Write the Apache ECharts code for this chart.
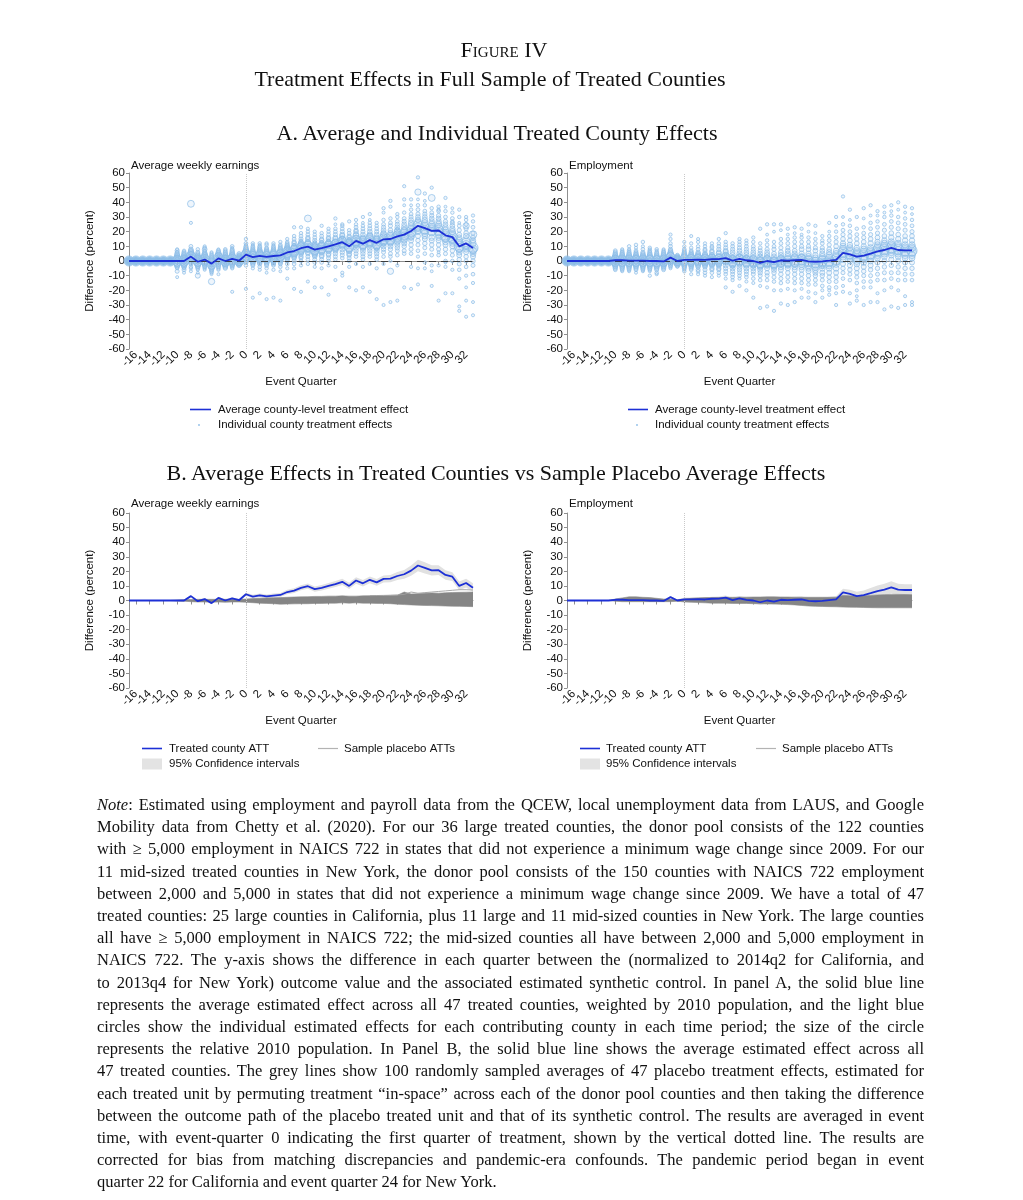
<!DOCTYPE html>
<html><head><meta charset="utf-8">
<script src="https://cdn.jsdelivr.net/npm/echarts@6/dist/echarts.min.js"></script>
<style>
html,body{margin:0;padding:0;background:#fff;}
#wrap{position:relative;width:1023px;height:1200px;}
#chart{position:absolute;left:0;top:0;width:1023px;height:1200px;}
.ttl{position:absolute;font-family:'Liberation Serif','Times New Roman',serif;color:#111;text-align:center;white-space:nowrap;width:800px;line-height:26px;font-size:22px;}
#note{position:absolute;left:97px;top:794px;width:827px;font-family:'Liberation Serif','Times New Roman',serif;font-size:16.5px;line-height:22.2px;color:#111;}
#note div{text-align:justify;text-align-last:justify;word-spacing:-1.5px;}
#note div.last{text-align-last:left;word-spacing:0;}
</style></head><body>
<div id="wrap">
<div id="chart"></div>
<div class="ttl" style="left:104px;top:37px;font-variant:small-caps;">Figure IV</div>
<div class="ttl" style="left:90px;top:66px;">Treatment Effects in Full Sample of Treated Counties</div>
<div class="ttl" style="left:97px;top:120px;">A. Average and Individual Treated County Effects</div>
<div class="ttl" style="left:96px;top:460px;">B. Average Effects in Treated Counties vs Sample Placebo Average Effects</div>
<div id="note">
<div><i>Note</i>: Estimated using employment and payroll data from the QCEW, local unemployment data from LAUS, and Google</div>
<div>Mobility data from Chetty et al. (2020). For our 36 large treated counties, the donor pool consists of the 122 counties</div>
<div>with ≥ 5,000 employment in NAICS 722 in states that did not experience a minimum wage change since 2009. For our</div>
<div>11 mid-sized treated counties in New York, the donor pool consists of the 150 counties with NAICS 722 employment</div>
<div>between 2,000 and 5,000 in states that did not experience a minimum wage change since 2009. We have a total of 47</div>
<div>treated counties: 25 large counties in California, plus 11 large and 11 mid-sized counties in New York. The large counties</div>
<div>all have ≥ 5,000 employment in NAICS 722; the mid-sized counties all have between 2,000 and 5,000 employment in</div>
<div>NAICS 722. The y-axis shows the difference in each quarter between the (normalized to 2014q2 for California, and</div>
<div>to 2013q4 for New York) outcome value and the associated estimated synthetic control. In panel A, the solid blue line</div>
<div>represents the average estimated effect across all 47 treated counties, weighted by 2010 population, and the light blue</div>
<div>circles show the individual estimated effects for each contributing county in each time period; the size of the circle</div>
<div>represents the relative 2010 population. In Panel B, the solid blue line shows the average estimated effect across all</div>
<div>47 treated counties. The grey lines show 100 randomly sampled averages of 47 placebo treatment effects, estimated for</div>
<div>each treated unit by permuting treatment “in-space” across each of the donor pool counties and then taking the difference</div>
<div>between the outcome path of the placebo treated unit and that of its synthetic control. The results are averaged in event</div>
<div>time, with event-quarter 0 indicating the first quarter of treatment, shown by the vertical dotted line. The results are</div>
<div>corrected for bias from matching discrepancies and pandemic-era confounds. The pandemic period began in event</div>
<div class="last">quarter 22 for California and event quarter 24 for New York.</div>
</div>
</div>
<script>
// ---------- DATA ----------
const quarters = [-17,-16,-15,-14,-13,-12,-11,-10,-9,-8,-7,-6,-5,-4,-3,-2,-1,0,1,2,3,4,5,6,7,8,9,10,11,12,13,14,15,16,17,18,19,20,21,22,23,24,25,26,27,28,29,30,31,32,33];
const tickQuarters = [-16,-14,-12,-10,-8,-6,-4,-2,0,2,4,6,8,10,12,14,16,18,20,22,24,26,28,30,32];

// average (population-weighted) treatment effect, percent
const earnAtt = [0,0,0,0,0,0,0, 0,0,3,-0.5,1,-1.8,1.8,0,1.5,0.2, 4.3,2.7,3.5,2.8,3.4,3.8,5.8,6.8,8.7,9.8, 7.8,8.7,10,11.3,12.8,10,13.7,11.8,14.2,12.4, 14.8,15,16.8,18,20.5,24,22.4,20.6,20.8,17.5, 16.3,10,12,8.8];
const emplAtt = [0,0,0,0,0,0,0, 0.5,0.5,0.3,0.2,0.2,0,0,-0.3,2.3,0, 0.8,0.8,1,0.7,1.2,1.3,2,0.3,1.5,0.5, 0,-1.2,0,-0.8,0.5,0.3,0.5,0.7,-0.3,-0.5, -0.3,0.3,0.8,5.5,4.5,3,3.7,5,6.5,7.5, 9,7.5,7.2,7.2];

// relative 2010 population of the plotted counties (order matches the columns of each row below)
const countyPop = [12,8,6,4.5,3.5,2.8,2.2,1.8,1.5,1.2,1.0,0.85,0.7,0.6,0.5,0.4,0.35,0.3,0.25,0.2];

// individual county effects, one row per event quarter (-17 .. 33)
const earnCounty = [
[0,0,0,0,0,0,0,0,0,0,0,0,0,0,0,0,0,0,0,0],
[0,0,0,0,0,0,0,0,0,0,0,0,0,0,0,0,0,0,0,0],
[0,0,0,0,0,0,0,0,0,0,0,0,0,0,0,0,0,0,0,0],
[0,0,0,0,0,0,0,0,0,0,0,0,0,0,0,0,0,0,0,0],
[0,0,0,0,0,0,0,0,0,0,0,0,0,0,0,0,0,0,0,0],
[0,0,0,0,0,0,0,0,0,0,0,0,0,0,0,0,0,0,0,0],
[0,0,0,0,0,0,0,0,0,0,0,0,0,0,0,0,0,0,0,0],
[0,1,-1,2,-2,3,-3,4,5,-4,7,-7,1,6,-1,2,-5,8,-11,3],
[0,1,-1,2,-2,3,-3,4,-4,5,6,-6,1,2,-1,7,-5,3,-8,0],
[3,2,4,39,5,6,0,7,-1,8,-2,3,10,-4,5,-5,1,26,-7,2],
[0,1,-1,2,-2,3,-3,-10,4,-4,5,6,-5,1,8,-1,2,-6,3,-8],
[1,0,2,3,-1,4,-2,5,8,-3,6,-4,7,2,9,-5,1,10,-6,3],
[-2,-1,-3,0,-14,-4,1,-5,2,-6,3,-7,4,5,-2,-8,0,-3,6,-9],
[2,1,3,0,4,-1,5,-2,6,-3,7,-4,2,-5,3,1,-6,4,-9,8],
[0,1,-1,2,-2,3,-3,4,-4,5,6,-5,7,1,8,-1,2,0,3,-2],
[1,2,0,3,-1,4,-2,5,6,-3,7,-4,8,10,2,-5,3,-21,1,9],
[0,0,1,-1,2,-2,3,1,4,-3,5,0,2,-1,3,1,-2,4,0,2],
[4,5,3,6,2,7,1,8,0,9,-1,10,12,-3,15,5,-19,11,3,6],
[3,2,4,1,5,0,6,-1,7,-2,8,9,-3,10,12,2,-5,-25,4,11],
[3,4,2,5,1,6,0,7,-1,8,-2,9,10,-4,12,3,-6,-22,5,11],
[3,2,4,1,5,0,6,-1,7,-2,8,-3,9,11,-5,12,3,-26,4,-8],
[3,4,2,5,1,6,0,7,-1,8,-2,9,10,-3,12,-6,4,-25,2,11],
[4,3,5,2,6,1,7,0,8,-1,9,-2,10,11,-4,13,3,-27,5,-7],
[6,5,7,4,8,3,9,2,10,1,11,0,12,-2,13,15,-5,-12,6,8],
[7,6,8,5,9,4,10,3,12,2,13,0,15,-2,17,23,-5,-19,7,11],
[9,8,10,7,11,6,12,5,13,3,15,2,17,0,19,23,-3,-21,9,14],
[10,9,11,29,12,8,13,6,15,5,16,3,18,1,20,-2,22,-14,10,7],
[8,7,9,6,10,5,11,4,12,3,14,1,16,-1,18,20,-4,-18,8,13],
[9,8,10,7,11,6,12,4,14,3,15,1,17,-1,19,24,-5,-18,9,13],
[10,9,11,8,12,7,13,5,15,4,16,2,18,0,20,22,-3,-23,10,14],
[11,10,12,9,13,8,15,7,16,5,18,3,20,1,22,29,-4,-13,11,25],
[13,12,14,11,15,10,17,8,18,6,20,4,22,2,24,25,-8,-10,13,16],
[10,9,12,8,13,7,14,5,16,4,17,2,19,0,21,27,-4,-18,11,15],
[14,13,15,12,17,11,18,9,20,7,21,5,23,3,25,28,-2,-20,14,10],
[12,11,14,10,15,9,16,7,18,5,20,3,22,1,24,30,-4,-18,12,26],
[14,13,16,12,17,11,18,9,20,7,22,5,24,3,26,32,-2,-21,14,28],
[12,11,14,10,15,9,16,7,18,5,20,3,22,1,24,26,-5,-26,13,8],
[15,14,16,13,18,12,19,10,21,8,23,6,25,3,28,36,-2,-30,33,11],
[15,14,17,13,-7,12,19,10,21,8,24,5,26,3,29,41,37,-28,15,0],
[17,16,18,14,20,13,21,11,23,9,25,7,27,4,30,32,-3,-27,17,22],
[18,17,20,15,21,14,23,12,25,10,27,7,29,5,33,42,51,-18,18,38],
[20,19,22,17,24,16,26,14,28,11,30,8,32,5,35,42,-4,-19,21,38],
[24,23,26,21,47,20,28,17,30,14,32,11,35,7,38,57,3,-16,-5,42],
[22,21,24,19,26,17,28,15,30,12,32,9,34,5,38,46,-1,-5,22,41],
[21,20,23,43,25,16,27,14,29,11,31,8,33,4,36,50,-3,-17,21,-7],
[21,20,23,18,25,16,27,14,29,11,31,8,34,4,37,35,-3,-27,21,6],
[17,16,19,15,21,13,23,11,25,8,27,5,30,0,34,43,-4,-22,-1,37],
[16,15,18,14,20,12,22,10,24,7,26,4,29,0,33,27,-6,-22,16,36],
[10,9,12,8,14,6,16,4,18,1,21,-2,24,-6,30,35,-12,-34,-31,26],
[12,11,14,10,24,8,17,6,19,3,22,0,25,-4,28,30,-10,-38,-27,-18],
[9,8,18,7,12,5,14,3,16,0,19,-3,23,-9,27,31,-15,-37,-28,9]
];
const emplCounty = [
[0,0,0,0,0,0,0,0,0,0,0,0,0,0,0,0,0,0,0,0],
[0,0,0,0,0,0,0,0,0,0,0,0,0,0,0,0,0,0,0,0],
[0,0,0,0,0,0,0,0,0,0,0,0,0,0,0,0,0,0,0,0],
[0,0,0,0,0,0,0,0,0,0,0,0,0,0,0,0,0,0,0,0],
[0,0,0,0,0,0,0,0,0,0,0,0,0,0,0,0,0,0,0,0],
[0,0,0,0,0,0,0,0,0,0,0,0,0,0,0,0,0,0,0,0],
[0,0,0,0,0,0,0,0,0,0,0,0,0,0,0,0,0,0,0,0],
[0,1,-1,2,-2,3,-3,4,-4,5,-5,6,7,-6,1,2,-1,3,0,-2],
[0,1,-1,2,-2,3,-3,4,-4,5,-5,6,-6,7,1,-1,2,8,-7,0],
[0,1,-1,2,-2,3,-3,4,-4,5,-5,6,-6,7,10,-1,1,8,-7,2],
[0,1,-1,2,-2,3,-3,4,-4,5,-5,6,-6,7,11,-1,1,9,-8,3],
[0,1,-1,2,-2,3,-3,4,-4,5,-5,6,-6,8,13,-1,1,10,-7,2],
[0,1,-1,2,-2,3,-3,4,-4,5,-5,6,7,-6,9,-10,1,8,-7,-1],
[0,-1,1,-2,2,-3,3,-4,4,-5,5,-6,6,-8,8,-1,1,-9,7,0],
[0,1,-1,2,-2,3,-3,4,-4,5,-5,6,-6,7,1,-1,2,0,8,-2],
[2,3,1,4,0,5,-1,6,-2,7,-3,8,10,-4,12,15,18,2,-5,3],
[0,0,1,-1,2,-2,1,3,-3,0,2,-1,4,1,-2,0,3,-4,1,2],
[1,0,2,-1,3,-2,4,-3,5,-4,6,-5,7,8,-7,10,13,1,-6,2],
[1,0,2,-1,3,-2,4,-3,5,-4,6,-5,7,-6,9,12,-9,17,1,2],
[1,0,2,-1,3,-2,4,-3,5,-4,6,-6,8,-7,10,13,-9,15,1,2],
[1,0,2,-1,3,-2,4,-3,5,-4,7,-6,8,-8,10,12,-10,2,1,-1],
[1,0,2,-1,3,-2,4,-3,6,-5,7,-6,9,-8,10,12,-11,2,1,3],
[1,0,2,-1,3,-2,5,-3,6,-5,8,-6,10,-8,12,15,-10,2,1,-1],
[2,1,3,0,4,-1,6,-3,7,-5,9,-7,11,-9,13,19,-18,-12,2,4],
[0,-1,1,-2,2,-3,4,-5,6,-7,8,-9,10,-11,12,-13,-21,3,0,-4],
[1,0,2,-1,3,-2,5,-4,7,-6,9,-8,11,-10,13,15,-17,-12,1,4],
[0,-1,1,-2,2,-3,4,-5,6,-7,8,-9,10,-11,12,14,-20,-14,0,3],
[0,-1,1,-2,2,-3,4,-5,6,-7,8,-9,10,-12,13,16,-25,-15,0,-4],
[-1,-2,0,-3,1,-4,3,-6,5,-8,7,-10,9,-13,12,22,-32,-17,-1,4],
[0,-1,1,-2,2,-3,4,-5,6,-8,8,-10,11,-13,14,25,-31,-18,0,18],
[-1,-2,0,-3,1,-4,3,-6,5,-8,8,-11,10,-14,13,25,-34,-20,-1,20],
[0,-1,1,-2,2,-4,4,-6,6,-9,9,-12,12,-15,15,25,-29,-20,0,21],
[0,-1,1,-2,3,-3,5,-5,7,-8,9,-11,12,-14,15,22,-30,-19,0,18],
[0,-1,2,-2,3,-4,5,-6,7,-9,10,-12,13,-15,16,23,-28,-20,1,19],
[1,0,2,-2,3,-4,5,-6,8,-9,10,-12,13,-15,16,22,-25,-19,1,18],
[0,-1,1,-3,3,-5,5,-7,8,-10,10,-13,13,-16,16,25,-25,-21,0,20],
[-1,-2,0,-4,2,-6,4,-8,7,-10,9,-13,12,-16,15,24,-28,-22,-1,19],
[0,-1,1,-3,3,-5,5,-8,7,-10,9,-13,12,-17,14,17,-25,-20,0,-4],
[0,-1,2,-3,4,-5,6,-8,8,-11,11,-14,14,-18,17,26,-23,-20,1,20],
[1,0,3,-2,5,-5,7,-8,10,-11,13,-14,16,-18,20,30,-30,-22,1,24],
[6,5,8,3,10,1,12,-2,15,-5,18,-8,21,-12,25,44,-21,-17,6,30],
[5,4,7,2,9,0,11,-3,14,-6,17,-9,20,-13,24,35,-29,-22,4,28],
[3,2,5,0,7,-2,9,-5,12,-8,15,-11,18,-15,22,30,-27,-20,3,-24],
[4,3,6,1,8,-1,10,-4,13,-7,16,-10,19,-14,23,36,-30,-18,4,29],
[5,4,7,2,9,0,12,-3,15,-6,18,-10,22,-14,26,38,-28,-18,5,31],
[7,6,9,4,11,2,13,-1,16,-5,19,-9,23,-13,27,34,-28,-22,7,31],
[8,7,10,5,12,3,14,0,17,-4,21,-8,25,-13,30,37,-33,-20,8,33],
[9,8,11,6,13,4,16,1,19,-3,23,-8,27,-12,31,38,-31,-18,9,34],
[8,7,10,5,12,3,15,0,18,-4,22,-8,26,-13,30,40,-32,-20,7,35],
[7,6,9,4,11,2,14,-1,17,-5,21,-9,25,-13,29,37,-30,-24,7,33],
[7,6,9,4,11,2,14,-1,17,-5,20,-9,24,-13,28,36,-30,-28,7,32]
];

// 95% CI half-widths around the treated-county ATT
const earnCIHalf = [0,0,0,0,0,0,0, 0.6,0.6,0.8,0.8,0.8,0.8,0.8,0.8,0.8,0.8, 1.2,1.2,1.3,1.3,1.4,1.4,1.5,1.6,1.7,1.8, 1.8,1.9,2,2,2.1,2.1,2.2,2.2,2.3,2.3, 2.4,2.5,2.7,3,3.5,4,3.8,3.5,3.3,3.2, 3,3,3,3];
const emplCIHalf = [0,0,0,0,0,0,0, 0.6,0.6,0.8,0.8,0.8,0.8,0.8,0.8,0.8,0.8, 1.2,1.2,1.3,1.3,1.4,1.4,1.5,1.5,1.6,1.6, 1.8,1.8,1.9,1.9,2,2,2,2.1,2.1,2.2, 2.2,2.2,2.2,2.5,2.8,3,3.2,3.5,3.8,4, 4.2,4,4,4];

// range covered by the 100 sample placebo ATT lines (lowest / highest)
const earnPlaceboLow  = [0,0,0,0,0,0,0, -0.3,-0.5,-0.8,-1,-1,-1.2,-1,-1.2,-1,-1, -1.2,-1.5,-1.8,-2,-2.2,-2.5,-2.4,-2.3,-2.2,-2.2, -2,-2,-1.8,-1.8,-1.6,-1.8,-1.6,-1.8,-1.8,-2, -2,-2.2,-2.5,-2.8,-3,-3.2,-3.4,-3.5,-3.6,-3.8, -3.9,-4,-4.1,-4.2];
const earnPlaceboHigh = [0,0,0,0,0,0,0, 0.3,0.5,0.7,0.8,0.8,0.8,0.8,0.8,0.8,0.8, 1,1.3,1.5,1.8,1.9,2,2.2,2.4,2.5,2.6, 2.8,2.8,3,3,3.2,3,3,3.2,3.3,3.3, 3.3,3.5,3.6,5.8,4.5,4.6,5,5.2,5,5.3, 5.5,5.6,5.7,5.8];
const earnPlaceboTopLine = [null,null,null,null,null,null,null,null,null,null,null,null,null,null,null,null,null,null,null,null,null,null,null,null,null,null,null,null,null,null,null,null,null,null,null, 3.3,3.4,3.5,3.6,3.8,4.2,5.8,5,5.4,5.8,6.2,6.6,7,7.4,7.4,7.2];
const emplPlaceboLow  = [0,0,0,0,0,0,0, -0.5,-0.8,-0.8,-0.8,-0.8,-0.8,-0.8,-0.8,-0.8,-0.5, -1,-1.2,-1.4,-1.6,-1.8,-1.8,-1.8,-2,-2,-2, -2.2,-2.2,-2.4,-2.4,-2.6,-2.8,-3,-3.4,-3.8,-4, -4.1,-4.2,-4.3,-4.5,-4.6,-4.7,-4.8,-4.9,-5,-5, -5,-5,-5,-5];
const emplPlaceboHigh = [0,0,0,0,0,0,0, 1,1.8,2.5,2.5,2.2,2,1.5,1,0.8,0.5, 1,1.5,1.8,2,2,2,2.2,2.2,2.3,2.3, 2.4,2.4,2.5,2.5,2.4,2.4,2.3,2.3,2.2,2.2, 2.2,2.2,2.3,3.5,3.2,3,3.2,3.5,3.8,4, 4.2,4.2,4.1,4];

// ---------- CHART ----------
const FONT = "'Liberation Sans', Arial, Helvetica, sans-serif";
const TXT = '#111';
const AX = '#8f8f8f';
const BLUE = '#1d30d6';
const LBLUE = '#8dbde8';
const isTick = (idx, val) => tickQuarters.indexOf(Number(val)) >= 0;
const tickLabel = (val) => (tickQuarters.indexOf(Number(val)) >= 0 ? String(val) : '');
const cats = quarters.map(String);

const grids = [
  {left:129, top:173, width:344, height:176},
  {left:567, top:173, width:345, height:176},
  {left:129, top:513, width:344, height:175},
  {left:567, top:513, width:345, height:175}
];
const xAxes = grids.map((g, i) => ({
  type:'category', gridIndex:i, data:cats, boundaryGap:false,
  axisLine:{show:true, lineStyle:{color:AX, width:1}},
  axisTick:{show:true, interval:isTick, length:4, lineStyle:{color:AX}},
  axisLabel:{interval:0, formatter:tickLabel, rotate:45, fontSize:11.5, fontFamily:FONT, color:TXT, margin:4, hideOverlap:false},
  splitLine:{show:false},
  name:'Event Quarter', nameLocation:'middle', nameGap:27,
  nameTextStyle:{fontSize:11.5, fontFamily:FONT, color:TXT}
}));
const yAxes = grids.map((g, i) => ({
  type:'value', gridIndex:i, min:-60, max:60, interval:10,
  axisLine:{show:true, lineStyle:{color:AX, width:1}},
  axisTick:{show:true, length:3, lineStyle:{color:AX}},
  axisLabel:{fontSize:11.5, fontFamily:FONT, color:TXT, margin:4, showMinLabel:true, showMaxLabel:true},
  splitLine:{show:false},
  name:'Difference (percent)', nameLocation:'middle', nameGap:33, nameRotate:90,
  nameTextStyle:{fontSize:11.5, fontFamily:FONT, color:TXT}
}));

function vlineSeries(i, att) {
  return {type:'line', xAxisIndex:i, yAxisIndex:i, data:att, symbol:'none', silent:true,
    lineStyle:{opacity:0}, z:1,
    markLine:{silent:true, symbol:'none', label:{show:false},
      data:[{xAxis:'0', lineStyle:{type:'dotted', color:'#c9c9c9', width:1}}]}};
}
function panelA(i, rows, att) {
  const pts = [];
  rows.forEach((row, qi) => row.forEach((v, k) => pts.push([qi, v, k])));
  return [
    vlineSeries(i, att),
    {type:'scatter', xAxisIndex:i, yAxisIndex:i, data:pts, silent:true, z:2,
      symbolSize:(v) => 1.8 + 2.4 * Math.sqrt(countyPop[v[2]]),
      itemStyle:{color:'rgba(160,200,240,0.22)', borderColor:LBLUE, borderWidth:0.9},
      markLine:{silent:true, symbol:'none', label:{show:false},
        data:[{yAxis:0, lineStyle:{type:[7,5], color:'#333', width:0.9}}]}},
    {type:'line', xAxisIndex:i, yAxisIndex:i, data:att, symbol:'none', showSymbol:false, silent:true,
      lineStyle:{color:BLUE, width:1.8}, z:10}
  ];
}
function panelB(i, att, ciHalf, plLow, plHigh, extraLines) {
  const ciLow = att.map((v, j) => v - ciHalf[j]);
  const ciSpan = ciHalf.map(h => 2 * h);
  const plSpan = plHigh.map((v, j) => v - plLow[j]);
  const s = [
    vlineSeries(i, att),
    {type:'line', xAxisIndex:i, yAxisIndex:i, data:ciLow, stack:'ci'+i, stackStrategy:'all', symbol:'none', silent:true, lineStyle:{opacity:0}, z:2},
    {type:'line', xAxisIndex:i, yAxisIndex:i, data:ciSpan, stack:'ci'+i, stackStrategy:'all', symbol:'none', silent:true, lineStyle:{opacity:0}, areaStyle:{color:'#e1e1e1', opacity:1}, z:2},
    {type:'line', xAxisIndex:i, yAxisIndex:i, data:plLow, stack:'pl'+i, stackStrategy:'all', symbol:'none', silent:true, lineStyle:{color:'#8a8a8a', width:0.6}, z:3},
    {type:'line', xAxisIndex:i, yAxisIndex:i, data:plSpan, stack:'pl'+i, stackStrategy:'all', symbol:'none', silent:true, lineStyle:{color:'#8a8a8a', width:0.6}, areaStyle:{color:'#858585', opacity:1}, z:3}
  ];
  extraLines.forEach(l => s.push({type:'line', xAxisIndex:i, yAxisIndex:i, data:l, symbol:'none', silent:true, connectNulls:false, lineStyle:{color:'#a0a0a0', width:0.9}, z:4}));
  s.push({type:'line', xAxisIndex:i, yAxisIndex:i, data:att, symbol:'none', showSymbol:false, silent:true, lineStyle:{color:BLUE, width:1.8}, z:10});
  return s;
}

function txt(x, y, text, size) {
  return {type:'text', x:x, y:y, silent:true, z:100,
    style:{text:text, fontSize:size || 11.5, fontFamily:FONT, fill:TXT, verticalAlign:'middle', align:'left'}};
}
function seg(x1, x2, y, color, w) {
  return {type:'line', silent:true, z:100, shape:{x1:x1, y1:y, x2:x2, y2:y}, style:{stroke:color, lineWidth:w}};
}
const graphics = [
  txt(131, 165.5, 'Average weekly earnings'),
  txt(569, 165.5, 'Employment'),
  txt(131, 504, 'Average weekly earnings'),
  txt(569, 504, 'Employment'),
  seg(190, 211, 409.5, BLUE, 1.6), txt(218, 409.5, 'Average county-level treatment effect'),
  {type:'circle', silent:true, z:100, shape:{cx:199, cy:425, r:0.9}, style:{fill:LBLUE}}, txt(218, 425, 'Individual county treatment effects'),
  seg(628, 648, 409.5, BLUE, 1.6), txt(655, 409.5, 'Average county-level treatment effect'),
  {type:'circle', silent:true, z:100, shape:{cx:637, cy:425, r:0.9}, style:{fill:LBLUE}}, txt(655, 425, 'Individual county treatment effects'),
  seg(142, 162, 748.5, BLUE, 1.6), txt(169, 748.5, 'Treated county ATT'),
  seg(318, 338, 748.5, '#b3b3b3', 1.2), txt(344, 748.5, 'Sample placebo ATTs'),
  {type:'rect', silent:true, z:100, shape:{x:142, y:758.5, width:20, height:11}, style:{fill:'#e3e3e3'}}, txt(169, 764, '95% Confidence intervals'),
  seg(580, 600, 748.5, BLUE, 1.6), txt(606, 748.5, 'Treated county ATT'),
  seg(756, 776, 748.5, '#b3b3b3', 1.2), txt(782, 748.5, 'Sample placebo ATTs'),
  {type:'rect', silent:true, z:100, shape:{x:580, y:758.5, width:20, height:11}, style:{fill:'#e3e3e3'}}, txt(606, 764, '95% Confidence intervals')
];

const chart = echarts.init(document.getElementById('chart'), null, {renderer:'canvas', width:1023, height:1200});
chart.setOption({
  animation:false,
  backgroundColor:'#ffffff',
  textStyle:{fontFamily:FONT},
  grid:grids, xAxis:xAxes, yAxis:yAxes,
  series:[].concat(
    panelA(0, earnCounty, earnAtt),
    panelA(1, emplCounty, emplAtt),
    panelB(2, earnAtt, earnCIHalf, earnPlaceboLow, earnPlaceboHigh, [earnPlaceboTopLine]),
    panelB(3, emplAtt, emplCIHalf, emplPlaceboLow, emplPlaceboHigh, [])
  ),
  graphic:graphics
});
</script>
</body></html>
